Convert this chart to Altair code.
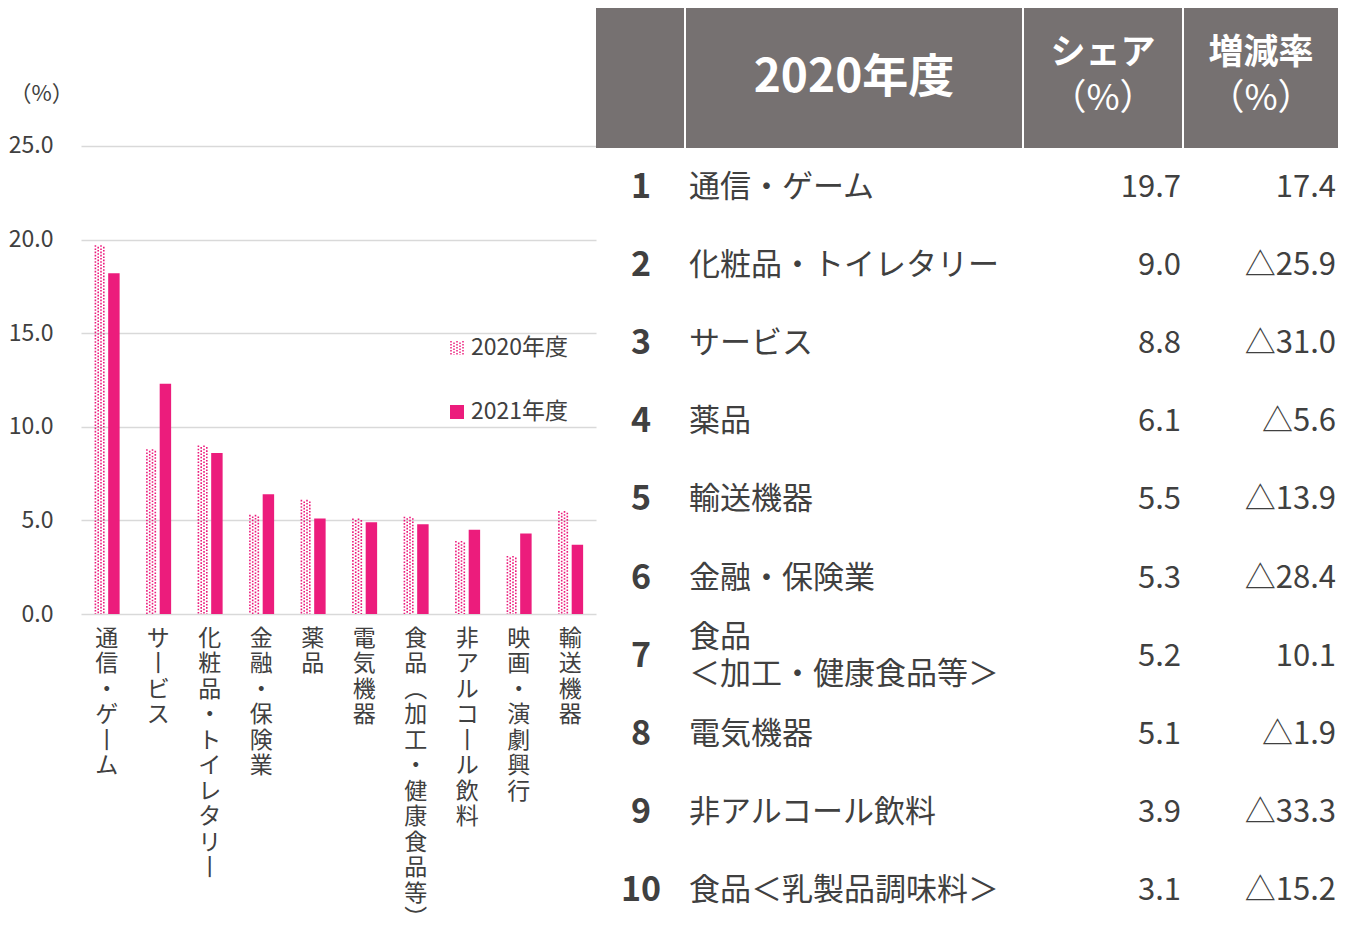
import altair as alt
import pandas as pd

# ---------------- data ----------------
categories = ["通信・ゲーム", "サービス", "化粧品・トイレタリー", "金融・保険業", "薬品",
              "電気機器", "食品（加工・健康食品等）", "非アルコール飲料", "映画・演劇興行", "輸送機器"]
share_2020 = [19.7, 8.8, 9.0, 5.3, 6.1, 5.1, 5.2, 3.9, 3.1, 5.5]
share_2021 = [18.2, 12.3, 8.6, 6.4, 5.1, 4.9, 4.8, 4.5, 4.3, 3.7]
series_names = ["2020年度", "2021年度"]
y_ticks = [0, 5, 10, 15, 20, 25]

table_rank = [1, 2, 3, 4, 5, 6, 7, 8, 9, 10]
table_names = ["通信・ゲーム", "化粧品・トイレタリー", "サービス", "薬品", "輸送機器",
               "金融・保険業", "食品\n＜加工・健康食品等＞", "電気機器", "非アルコール飲料",
               "食品＜乳製品調味料＞"]
table_share = [19.7, 9.0, 8.8, 6.1, 5.5, 5.3, 5.2, 5.1, 3.9, 3.1]
table_change = [17.4, -25.9, -31.0, -5.6, -13.9, -28.4, 10.1, -1.9, -33.3, -15.2]
header_cols = ["2020年度", "シェア", "（%）", "増減率"]

# ---------------- styles ----------------
FONT = "Noto Sans CJK JP"
PINK = "#EC1C7C"
TEXT = "#404040"
GRID = "#d9d9d9"
HEAD = "#767171"

bar_df = pd.DataFrame({
    "cat": categories * 2,
    "series": [series_names[0]] * len(categories) + [series_names[1]] * len(categories),
    "value": share_2020 + share_2021,
})
leg_df = pd.DataFrame({"series": series_names})
tab_df = pd.DataFrame({"rank": table_rank, "name": table_names,
                       "share": table_share, "change": table_change})
head_df = pd.DataFrame({"label": header_cols})

label_expr = ("split(replace(replace(replace(datum.label,'ー','丨'),'（','︵'),'）','︶'),'')")

X = alt.X("cat:N", sort=categories, title=None,
          scale=alt.Scale(paddingInner=0.5, paddingOuter=0.25),
          axis=alt.Axis(labelExpr=label_expr, labelAngle=0, labelAlign="center",
                        labelBaseline="top", labelFontSize=23, labelLineHeight=25.5,
                        labelPadding=13, labelColor=TEXT, domain=False, ticks=False,
                        grid=False, labelOverlap=False))
XO = alt.XOffset("series:N", scale=alt.Scale(domain=series_names, paddingInner=0.2,
                                             paddingOuter=0))
Y = alt.Y("value:Q",
          scale=alt.Scale(domain=[0, 32.37], nice=False, zero=True),
          axis=alt.Axis(values=y_ticks, format=".1f", grid=True, gridColor=GRID,
                        gridWidth=1.5, domain=False, ticks=False, labelPadding=28,
                        labelFontSize=23, labelColor=TEXT, title="（%）", titleAngle=0,
                        titleX=-40, titleY=85, titleFontSize=22, titleFontWeight="normal",
                        titleAlign="center", titleBaseline="middle", titleColor=TEXT))

is2020 = alt.datum.series == series_names[0]
is2021 = alt.datum.series == series_names[1]

bars2021 = alt.Chart(bar_df).transform_filter(is2021).mark_bar(color=PINK).encode(
    x=X, xOffset=XO, y=Y)

dot_layers = []
for off, dash_off in [(-11.35, 0), (-8.55, 1.6), (-5.75, 0), (-2.95, 1.6)]:
    dot_layers.append(
        alt.Chart(bar_df).transform_filter(is2020).mark_rule(
            color=PINK, strokeWidth=1.6, strokeDash=[1.6, 1.6],
            strokeDashOffset=dash_off, xOffset=off
        ).encode(x=X, y=Y, y2=alt.datum(0))
    )

# legend
leg_layers = []
for lx, dash_off in [(370, 0), (373, 1.5), (376, 0), (379, 1.5), (382, 0)]:
    leg_layers.append(
        alt.Chart(leg_df).transform_filter(is2020).mark_rule(
            color=PINK, strokeWidth=1.5, strokeDash=[1.5, 1.5], strokeDashOffset=dash_off
        ).encode(x=alt.value(lx), y=alt.value(333), y2=alt.value(347))
    )
leg_layers.append(
    alt.Chart(leg_df).transform_filter(is2021).mark_square(
        color=PINK, size=196, opacity=1).encode(x=alt.value(376), y=alt.value(404)))
leg_layers.append(
    alt.Chart(leg_df).transform_filter(is2020).mark_text(
        align="left", baseline="middle", fontSize=23, color=TEXT
    ).encode(x=alt.value(390), y=alt.value(340), text="series:N"))
leg_layers.append(
    alt.Chart(leg_df).transform_filter(is2021).mark_text(
        align="left", baseline="middle", fontSize=23, color=TEXT
    ).encode(x=alt.value(390), y=alt.value(404), text="series:N"))

left = alt.layer(bars2021, *dot_layers, *leg_layers).properties(width=515, height=606)

# ---------------- table ----------------
TW = 742
cells = [(0, 88), (90, 426), (428, 586), (588, TW)]
head_layers = []
for a, b in cells:
    head_layers.append(
        alt.Chart(head_df).transform_filter(alt.datum.label == header_cols[0]).mark_rect(
            color=HEAD).encode(x=alt.value(a), x2=alt.value(b), y=alt.value(0),
                               y2=alt.value(140)))


def head_text(label, x, y, size, weight):
    return alt.Chart(head_df).transform_filter(alt.datum.label == label).mark_text(
        align="center", baseline="middle", fontSize=size, fontWeight=weight, color="white"
    ).encode(x=alt.value(x), y=alt.value(y), text="label:N")


head_layers += [
    head_text(header_cols[0], 258, 70, 46, "bold"),
    head_text(header_cols[1], 507, 45, 35, "bold"),
    head_text(header_cols[2], 507, 91, 36, "normal"),
    head_text(header_cols[3], 665, 45, 35, "bold"),
    head_text(header_cols[2], 665, 91, 36, "normal"),
]

TY = alt.Y("rank:Q", scale=alt.Scale(domain=[1, 10], range=[180, 883]), axis=None)
tbase = alt.Chart(tab_df)
has_break = "indexof(datum.name, '\\n') >= 0"
rank_t = tbase.mark_text(align="center", baseline="middle", fontSize=34,
                         fontWeight="bold", color=TEXT).encode(
    x=alt.value(45), y=TY, text="rank:Q")
name_t = tbase.transform_filter("!(" + has_break + ")").mark_text(
    align="left", baseline="middle", fontSize=31, color=TEXT).encode(
    x=alt.value(93), y=TY, text="name:N")
name2_t = tbase.transform_filter(has_break).mark_text(
    align="left", baseline="middle", fontSize=31, lineBreak="\n", lineHeight=37,
    dy=-18.5, color=TEXT).encode(
    x=alt.value(93), y=TY, text="name:N")
share_t = tbase.mark_text(align="right", baseline="middle", fontSize=31, color=TEXT).encode(
    x=alt.value(585), y=TY, text=alt.Text("share:Q", format=".1f"))
change_t = tbase.transform_calculate(
    ctext="datum.change < 0 ? '△' + format(-datum.change, '.1f') : format(datum.change, '.1f')"
).mark_text(align="right", baseline="middle", fontSize=31, color=TEXT).encode(
    x=alt.value(740), y=TY, text="ctext:N")

right = alt.layer(*head_layers, rank_t, name_t, name2_t, share_t, change_t).properties(
    width=TW, height=908)

chart = alt.hconcat(left, right, spacing=0).properties(
    padding={"left": 0, "top": 0, "right": 0, "bottom": 0}
).configure(font=FONT).configure_view(stroke=None)

chart.save("out.html", embed_options={"renderer": "svg", "actions": False})
